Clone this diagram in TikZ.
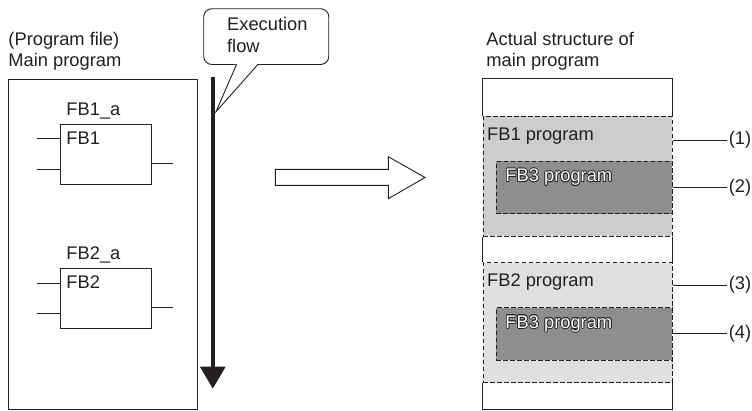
\documentclass[tikz,border=0pt]{standalone}
\usepackage{fontspec}
\setmainfont{Liberation Sans}
\definecolor{gone}{HTML}{CDCDCD}
\definecolor{gtwo}{HTML}{E0E0E1}
\definecolor{gthree}{HTML}{8E8E90}
\definecolor{ink}{HTML}{231F20}
\newcommand\halotext[1]{%
 \makebox[0pt][l]{\color{ink}\hspace{-0.75pt}#1}%
 \makebox[0pt][l]{\color{ink}\hspace{0.75pt}#1}%
 \makebox[0pt][l]{\color{ink}\raisebox{0.75pt}{#1}}%
 \makebox[0pt][l]{\color{ink}\raisebox{-0.75pt}{#1}}%
 \makebox[0pt][l]{\color{ink}\hspace{-0.55pt}\raisebox{0.55pt}{#1}}%
 \makebox[0pt][l]{\color{ink}\hspace{0.55pt}\raisebox{0.55pt}{#1}}%
 \makebox[0pt][l]{\color{ink}\hspace{-0.55pt}\raisebox{-0.55pt}{#1}}%
 \makebox[0pt][l]{\color{ink}\hspace{0.55pt}\raisebox{-0.55pt}{#1}}%
 \textcolor{white}{#1}}
\begin{document}
\begin{tikzpicture}[x=1pt,y=-1pt,
  font=\fontsize{18.3}{22}\selectfont,
  line width=0.9pt, color=ink,
  txt/.style={inner sep=0pt, anchor=base west, text=ink},
  blk/.style={draw=ink, fill=white, inner sep=0pt, anchor=north west},
  dsh/.style={draw=ink, dash pattern=on 4.5pt off 2.5pt, inner sep=0pt, anchor=north west},
  lbl/.style={inner xsep=1.8pt, inner ysep=0pt, anchor=west, text=ink}]
\useasboundingbox (0,0) rectangle (752,410);

% ---------- left: main program ----------
\node[txt] (h1) at (8,45) {(Program file)};
\node[txt] (h2) at (8,66.7) {Main program};
\node[blk, minimum width=189pt, minimum height=330pt] (main) at (8.3,79) {};

\node[blk, minimum width=90.7pt, minimum height=59.7pt] (fb1) at (60,124) {};
\node[txt] (fb1t) at (66,144) {FB1};
\node[txt] (fb1a) at (66,115) {FB1\_a};
\coordinate (fb1i1) at (36.7,138.3);
\coordinate (fb1i2) at (36.7,169);
\coordinate (fb1o) at (173.3,163);
\draw (fb1i1) -- (fb1i1 -| fb1.west);
\draw (fb1i2) -- (fb1i2 -| fb1.west);
\draw (fb1o -| fb1.east) -- (fb1o);

\node[blk, minimum width=90.7pt, minimum height=60pt] (fb2) at (60,268.3) {};
\node[txt] (fb2t) at (66,288.5) {FB2};
\node[txt] (fb2a) at (66,259.5) {FB2\_a};
\coordinate (fb2i1) at (36.7,283.3);
\coordinate (fb2i2) at (36.7,313.3);
\coordinate (fb2o) at (173.3,307.3);
\draw (fb2i1) -- (fb2i1 -| fb2.west);
\draw (fb2i2) -- (fb2i2 -| fb2.west);
\draw (fb2o -| fb2.east) -- (fb2o);

% ---------- execution flow ----------
\coordinate (es) at (212.7,77.3);
\coordinate (ee) at (212.7,368);
\draw[line width=4pt] (es) -- (ee);
\fill[ink] (199.8,366.5) -- (225.8,366.5) -- (212.8,388.5) -- cycle;

\node[draw=ink, fill=white, rounded corners=8pt, inner sep=0pt, anchor=north west,
      minimum width=125pt, minimum height=55.7pt] (call) at (203.3,8.3) {};
\coordinate (ptip) at (216,111.7);
\fill[white] (236.2,63.0) -- (258.8,63.0) -- (ptip) -- cycle;
\draw (236.7,64) -- (ptip) -- (258.3,64);
\node[txt] (ct1) at (226.7,30.8) {Execution};
\node[txt] (ct2) at (226.7,52.8) {flow};

% ---------- hollow arrow ----------
\draw[fill=white] (275.3,169.3) -- (388.3,169.3) -- (388.3,156.7) -- (425,177.5)
  -- (388.3,198.7) -- (388.3,185.3) -- (275.3,185.3) -- cycle;

% ---------- right: actual structure ----------
\node[txt] (r1) at (486,45) {Actual structure of};
\node[txt] (r2) at (486,66.7) {main program};
\node[inner sep=0pt, anchor=north west, minimum width=189pt, minimum height=330.7pt] (outer) at (482.7,78.3) {};

\node[dsh, fill=gone, minimum width=189pt, minimum height=119.7pt] (rfb1) at (482.7,116) {};
\node[dsh, fill=gthree, minimum width=175.7pt, minimum height=52.3pt] (rfb13) at (496,161) {};
\node[dsh, fill=gtwo, minimum width=189pt, minimum height=120pt] (rfb2) at (482.7,262.3) {};
\node[dsh, fill=gthree, minimum width=175.7pt, minimum height=52.7pt] (rfb23) at (496,307.3) {};

\draw (outer.west |- rfb1.north) -- (outer.north west) -- (outer.north east) -- (outer.east |- rfb1.north);
\draw (outer.west |- rfb1.south) -- (outer.west |- rfb2.north);
\draw (outer.east |- rfb1.south) -- (outer.east |- rfb2.north);
\draw (outer.west |- rfb2.south) -- (outer.south west) -- (outer.south east) -- (outer.east |- rfb2.south);

\node[txt] (t1) at (486.7,140) {FB1 program};
\node[txt] (t13) at (505,181.7) {\halotext{FB3 program}};
\node[txt] (t2) at (486.7,286.7) {FB2 program};
\node[txt] (t23) at (505,328.3) {\halotext{FB3 program}};

\node[lbl] (l1) at (726.5,140) {(1)};
\node[lbl] (l2) at (726.5,187.3) {(2)};
\node[lbl] (l3) at (726.5,285) {(3)};
\node[lbl] (l4) at (726.5,333.3) {(4)};
\draw (l1.west -| rfb1.east) -- (l1.west);
\draw (l2.west -| rfb13.east) -- (l2.west);
\draw (l3.west -| rfb2.east) -- (l3.west);
\draw (l4.west -| rfb23.east) -- (l4.west);
\end{tikzpicture}
\end{document}
